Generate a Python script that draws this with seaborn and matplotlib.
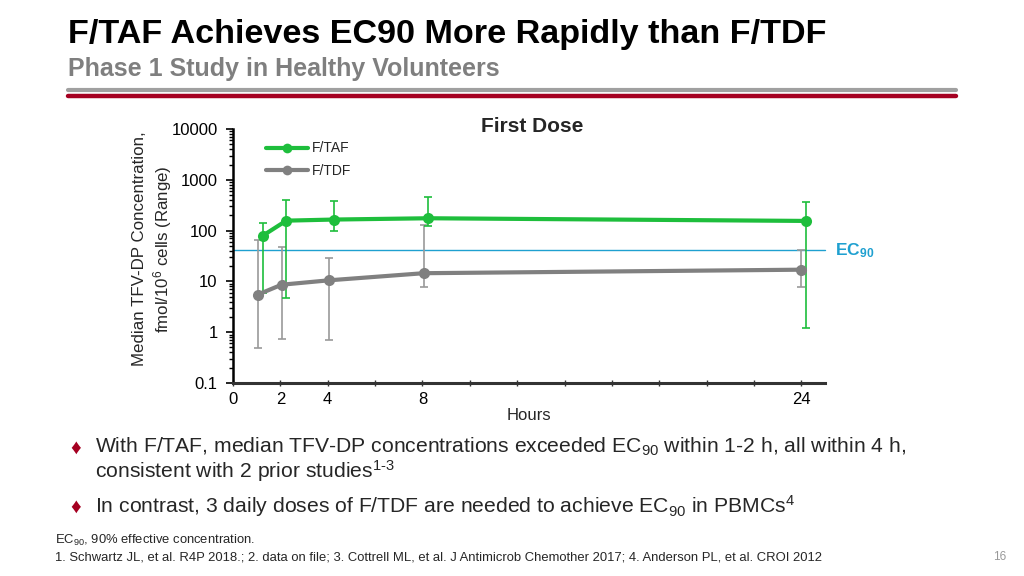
import matplotlib
matplotlib.use("Agg")
import matplotlib.pyplot as plt
from matplotlib.lines import Line2D
import matplotlib.ticker as mticker
import seaborn as sns
import numpy as np
import pandas as pd

# ---- data ----
hours_taf = [1.25, 2.25, 4.25, 8.25, 24.2]
median_taf = [79, 157, 165, 175, 155]
low_taf = [6.0, 4.7, 97, 122, 1.2]
high_taf = [144, 400, 380, 460, 365]

hours_tdf = [1.05, 2.05, 4.05, 8.05, 24.0]
median_tdf = [5.5, 8.6, 10.5, 14.5, 17]
low_tdf = [0.49, 0.72, 0.69, 7.9, 7.9]
high_tdf = [64, 47, 29, 130, 41]

ec90 = 41
xtick_vals = list(range(0, 25, 2))
xtick_labels = ["0", "2", "4", "", "8", "", "", "", "", "", "", "", "24"]
ytick_vals = [0.1, 1, 10, 100, 1000, 10000]
ytick_labels = ["0.1", "1", "10", "100", "1000", "10000"]

GREEN = "#1EBE3C"
GRAY = "#808080"
GRAY_ERR = "#9a9a9a"
BLUE = "#1FA0D0"
RED = "#A50021"

sns.set_theme(style="ticks")
plt.rcParams["font.family"] = ["Liberation Sans", "DejaVu Sans"]
plt.rcParams["mathtext.fontset"] = "custom"
plt.rcParams["mathtext.rm"] = "Liberation Sans"
plt.rcParams["mathtext.it"] = "Liberation Sans:italic"
plt.rcParams["mathtext.bf"] = "Liberation Sans:bold"

fig = plt.figure(figsize=(10.24, 5.76), dpi=100)
ax = fig.add_axes([233 / 1024, 1 - 383 / 576, (825 - 233) / 1024, (383 - 129) / 576])

df = pd.DataFrame({
    "Hours": hours_taf + hours_tdf,
    "Conc": median_taf + median_tdf,
    "Drug": ["F/TAF"] * len(hours_taf) + ["F/TDF"] * len(hours_tdf),
})

# error bars (ranges)
ax.errorbar(hours_tdf, median_tdf,
            yerr=[np.array(median_tdf) - np.array(low_tdf), np.array(high_tdf) - np.array(median_tdf)],
            fmt="none", ecolor=GRAY_ERR, elinewidth=1.2, capsize=3, capthick=1.2, zorder=2)
ax.errorbar(hours_taf, median_taf,
            yerr=[np.array(median_taf) - np.array(low_taf), np.array(high_taf) - np.array(median_taf)],
            fmt="none", ecolor=GREEN, elinewidth=1.2, capsize=3, capthick=1.2, zorder=4)

sns.lineplot(data=df, x="Hours", y="Conc", hue="Drug",
             palette={"F/TAF": GREEN, "F/TDF": GRAY}, hue_order=["F/TDF", "F/TAF"],
             marker="o", markersize=8, markeredgewidth=0, linewidth=3,
             legend=False, ax=ax, zorder=5)

ax.axhline(ec90, color=BLUE, lw=1, zorder=1, clip_on=False)
ax.annotate("EC$_{\\mathbf{90}}$", xy=(1.0, ec90), xycoords=("axes fraction", "data"),
            xytext=(7, 0), textcoords="offset points", va="center", ha="left",
            color=BLUE, fontsize=12.5, fontweight="bold")

ax.set_yscale("log")
ax.set_ylim(0.1, 10000)
ax.set_xlim(0, 25)
ax.set_yticks(ytick_vals)
ax.set_yticklabels(ytick_labels)
ax.yaxis.set_minor_locator(mticker.LogLocator(base=10, subs=np.arange(2, 10), numticks=20))
ax.yaxis.set_minor_formatter(mticker.NullFormatter())
ax.set_xticks(xtick_vals)
ax.set_xticklabels(xtick_labels)
ax.tick_params(axis="y", which="major", direction="out", length=5, width=1.2, labelsize=12, colors="black", pad=6)
ax.tick_params(axis="y", which="minor", direction="out", length=3, width=1.0, colors="black")
ax.tick_params(axis="x", which="major", direction="inout", length=5, width=1.0, labelsize=12, colors="#333333", labelcolor="black", pad=4)
ax.set_xlabel("Hours", fontsize=12, labelpad=1)
ax.set_ylabel("")
sns.despine(ax=ax, top=True, right=True)
ax.spines["left"].set_linewidth(1.8)
ax.spines["left"].set_color("black")
ax.spines["bottom"].set_linewidth(2.2)
ax.spines["bottom"].set_color("#333333")
ax.grid(False)

ax.set_title("First Dose", fontsize=15, fontweight="bold", x=0.505, y=1.0, pad=-2)

handles = [Line2D([], [], color=GREEN, lw=3, marker="o", markersize=7, markeredgewidth=0),
           Line2D([], [], color=GRAY, lw=3, marker="o", markersize=7, markeredgewidth=0)]
ax.legend(handles, ["F/TAF", "F/TDF"], loc="upper left", bbox_to_anchor=(0.035, 1.0),
          frameon=False, fontsize=10, handlelength=3.0, handletextpad=0.3, labelspacing=0.6)

fig.text(153 / 1024, 1 - 249 / 576, "Median TFV-DP Concentration,\nfmol/10$^6$ cells (Range)",
         rotation=90, ha="center", va="center", fontsize=12.2, linespacing=1.2)

# title block
fig.text(68 / 1024, 1 - 35 / 576, "F/TAF Achieves EC90 More Rapidly than F/TDF",
         fontsize=24.6, fontweight="bold", ha="left", va="center", color="black")
fig.text(68 / 1024, 1 - 69 / 576, "Phase 1 Study in Healthy Volunteers",
         fontsize=18, fontweight="bold", ha="left", va="center", color="#7f7f7f")
fig.add_artist(Line2D([68 / 1024, 956 / 1024], [1 - 89.7 / 576] * 2, color="#a0a0a0", lw=3))
fig.add_artist(Line2D([68 / 1024, 956 / 1024], [1 - 96 / 576] * 2, color=RED, lw=3.2))

# bullets
fs_b = 15.2
fig.text(76 / 1024, 1 - 448 / 576, "\u2666", color=RED, fontsize=15, ha="center", va="center")
fig.text(95 / 1024, 1 - 447 / 576, "With F/TAF, median TFV-DP concentrations exceeded EC$_{90}$ within 1-2 h, all within 4 h,",
         fontsize=fs_b, ha="left", va="center")
fig.text(95 / 1024, 1 - 471 / 576, "consistent with 2 prior studies$^{1\\text{-}3}$",
         fontsize=fs_b, ha="left", va="center")
fig.text(76 / 1024, 1 - 507 / 576, "\u2666", color=RED, fontsize=15, ha="center", va="center")
fig.text(95 / 1024, 1 - 506 / 576, "In contrast, 3 daily doses of F/TDF are needed to achieve EC$_{90}$ in PBMCs$^4$",
         fontsize=fs_b, ha="left", va="center")

fig.text(55 / 1024, 1 - 540 / 576, "EC$_{90}$, 90% effective concentration.", fontsize=9.4, ha="left", va="center")
fig.text(55 / 1024, 1 - 557 / 576,
         "1. Schwartz JL, et al. R4P 2018.; 2. data on file; 3. Cottrell ML, et al. J Antimicrob Chemother 2017; 4. Anderson PL, et al. CROI 2012",
         fontsize=9.4, ha="left", va="center")
fig.text(1000 / 1024, 1 - 557 / 576, "16", fontsize=8.5, ha="center", va="center", color="#999999")

fig.savefig("out.png", dpi=100)
